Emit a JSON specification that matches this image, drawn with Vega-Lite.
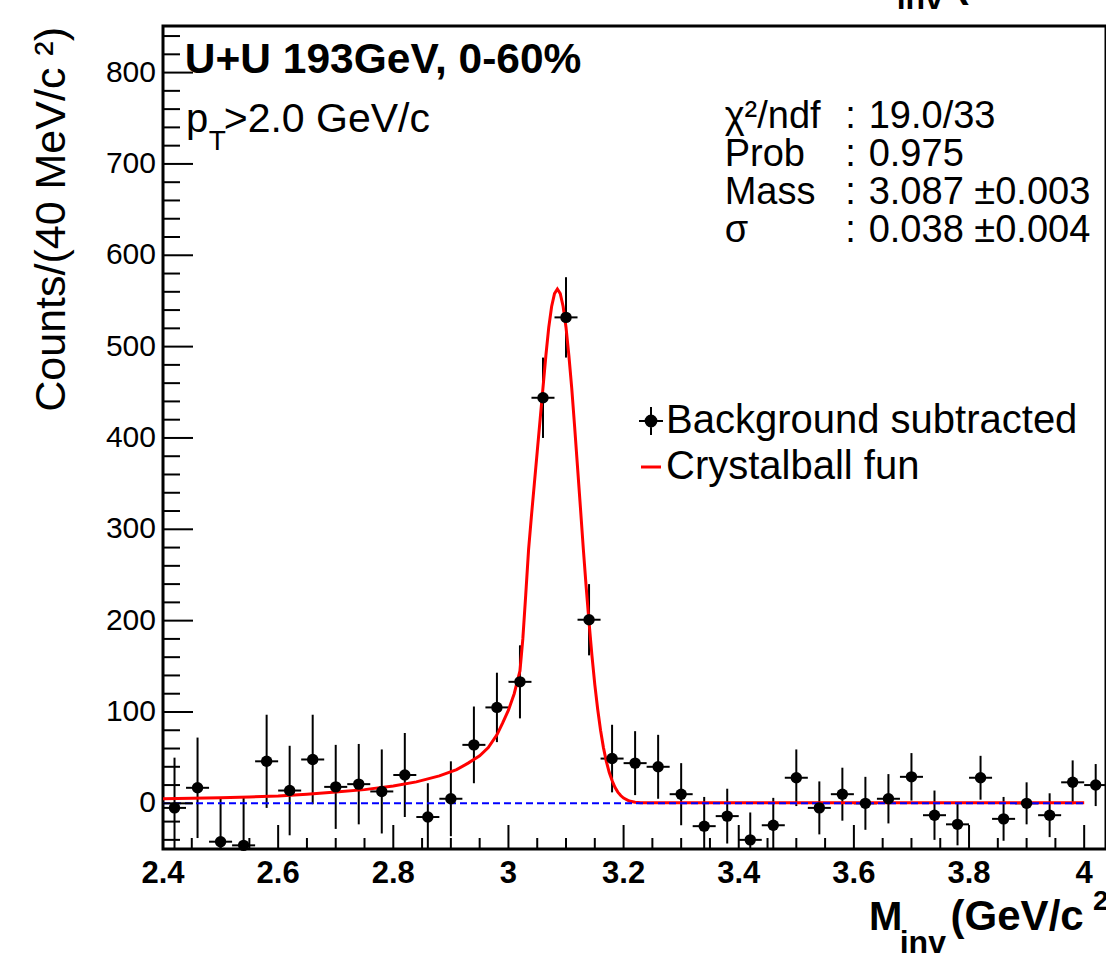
{
  "$schema": "https://vega.github.io/schema/vega-lite/v6.json",
  "width": 943,
  "height": 823,
  "autosize": {"type": "none"},
  "padding": {"left": 163, "top": 26, "right": 0, "bottom": 107},
  "background": "white",
  "config": {
    "view": {"stroke": "black", "strokeWidth": 3},
    "font": "Liberation Sans"
  },
  "datasets": {
    "hist": [
      {"m": 2.42, "n": -5, "e": 55, "w": 0.02},
      {"m": 2.46, "n": 17, "e": 55, "w": 0.02},
      {"m": 2.50, "n": -42, "e": 48, "w": 0.02},
      {"m": 2.54, "n": -46, "e": 52, "w": 0.02},
      {"m": 2.58, "n": 46, "e": 51, "w": 0.02},
      {"m": 2.62, "n": 14, "e": 49, "w": 0.02},
      {"m": 2.66, "n": 48, "e": 49, "w": 0.02},
      {"m": 2.70, "n": 18, "e": 46, "w": 0.02},
      {"m": 2.74, "n": 21, "e": 44, "w": 0.02},
      {"m": 2.78, "n": 13, "e": 46, "w": 0.02},
      {"m": 2.82, "n": 31, "e": 46, "w": 0.02},
      {"m": 2.86, "n": -15, "e": 37, "w": 0.02},
      {"m": 2.90, "n": 5, "e": 41, "w": 0.02},
      {"m": 2.94, "n": 64, "e": 42, "w": 0.02},
      {"m": 2.98, "n": 105, "e": 38, "w": 0.02},
      {"m": 3.02, "n": 133, "e": 40, "w": 0.02},
      {"m": 3.06, "n": 444, "e": 44, "w": 0.02},
      {"m": 3.10, "n": 532, "e": 44, "w": 0.02},
      {"m": 3.14, "n": 201, "e": 39, "w": 0.02},
      {"m": 3.18, "n": 49, "e": 37, "w": 0.02},
      {"m": 3.22, "n": 44, "e": 35, "w": 0.02},
      {"m": 3.26, "n": 40, "e": 35, "w": 0.02},
      {"m": 3.30, "n": 10, "e": 34, "w": 0.02},
      {"m": 3.34, "n": -25, "e": 32, "w": 0.02},
      {"m": 3.38, "n": -14, "e": 30, "w": 0.02},
      {"m": 3.42, "n": -40, "e": 30, "w": 0.02},
      {"m": 3.46, "n": -24, "e": 30, "w": 0.02},
      {"m": 3.50, "n": 28, "e": 31, "w": 0.02},
      {"m": 3.54, "n": -5, "e": 29, "w": 0.02},
      {"m": 3.58, "n": 10, "e": 29, "w": 0.02},
      {"m": 3.62, "n": 0, "e": 29, "w": 0.02},
      {"m": 3.66, "n": 5, "e": 27, "w": 0.02},
      {"m": 3.70, "n": 29, "e": 26, "w": 0.02},
      {"m": 3.74, "n": -13, "e": 27, "w": 0.02},
      {"m": 3.78, "n": -23, "e": 23, "w": 0.02},
      {"m": 3.82, "n": 28, "e": 24, "w": 0.02},
      {"m": 3.86, "n": -17, "e": 24, "w": 0.02},
      {"m": 3.90, "n": 0, "e": 23, "w": 0.02},
      {"m": 3.94, "n": -13, "e": 24, "w": 0.02},
      {"m": 3.98, "n": 23, "e": 24, "w": 0.02},
      {"m": 4.02, "n": 20, "e": 23, "w": 0.02}
    ],
    "fit": [
      {"m": 2.40, "f": 5}, {"m": 2.45, "f": 5.5}, {"m": 2.50, "f": 6}, {"m": 2.55, "f": 7},
      {"m": 2.60, "f": 8}, {"m": 2.65, "f": 10}, {"m": 2.70, "f": 12.5}, {"m": 2.75, "f": 15},
      {"m": 2.80, "f": 19}, {"m": 2.84, "f": 23.5}, {"m": 2.88, "f": 30}, {"m": 2.91, "f": 37},
      {"m": 2.93, "f": 44}, {"m": 2.95, "f": 52}, {"m": 2.965, "f": 61}, {"m": 2.98, "f": 75},
      {"m": 2.99, "f": 88}, {"m": 3.00, "f": 102}, {"m": 3.01, "f": 120}, {"m": 3.02, "f": 145},
      {"m": 3.025, "f": 180}, {"m": 3.03, "f": 228}, {"m": 3.035, "f": 278}, {"m": 3.04, "f": 315},
      {"m": 3.045, "f": 350}, {"m": 3.05, "f": 385}, {"m": 3.055, "f": 420}, {"m": 3.06, "f": 455},
      {"m": 3.065, "f": 490}, {"m": 3.07, "f": 521}, {"m": 3.075, "f": 544}, {"m": 3.08, "f": 558},
      {"m": 3.085, "f": 563}, {"m": 3.09, "f": 558}, {"m": 3.095, "f": 544}, {"m": 3.10, "f": 521},
      {"m": 3.105, "f": 490}, {"m": 3.11, "f": 454}, {"m": 3.115, "f": 412}, {"m": 3.12, "f": 368},
      {"m": 3.125, "f": 324}, {"m": 3.13, "f": 279}, {"m": 3.135, "f": 237}, {"m": 3.14, "f": 198},
      {"m": 3.145, "f": 162}, {"m": 3.15, "f": 130}, {"m": 3.155, "f": 103}, {"m": 3.16, "f": 80},
      {"m": 3.165, "f": 61}, {"m": 3.17, "f": 46}, {"m": 3.175, "f": 34}, {"m": 3.18, "f": 25},
      {"m": 3.185, "f": 17.6}, {"m": 3.19, "f": 12.3}, {"m": 3.195, "f": 8.5}, {"m": 3.20, "f": 5.8},
      {"m": 3.21, "f": 2.5}, {"m": 3.22, "f": 1.2}, {"m": 3.23, "f": 0.7}, {"m": 3.25, "f": 0.5},
      {"m": 4.00, "f": 0.5}
    ],
    "xmajor": [{"t": 2.4}, {"t": 2.6}, {"t": 2.8}, {"t": 3.0}, {"t": 3.2}, {"t": 3.4}, {"t": 3.6}, {"t": 3.8}, {"t": 4.0}],
    "xminor": [{"t": 2.45}, {"t": 2.5}, {"t": 2.55}, {"t": 2.65}, {"t": 2.7}, {"t": 2.75}, {"t": 2.85}, {"t": 2.9}, {"t": 2.95}, {"t": 3.05}, {"t": 3.1}, {"t": 3.15}, {"t": 3.25}, {"t": 3.3}, {"t": 3.35}, {"t": 3.45}, {"t": 3.5}, {"t": 3.55}, {"t": 3.65}, {"t": 3.7}, {"t": 3.75}, {"t": 3.85}, {"t": 3.9}, {"t": 3.95}],
    "ymajor": [{"t": 0}, {"t": 100}, {"t": 200}, {"t": 300}, {"t": 400}, {"t": 500}, {"t": 600}, {"t": 700}, {"t": 800}],
    "yminor": [{"t": -40}, {"t": -20}, {"t": 20}, {"t": 40}, {"t": 60}, {"t": 80}, {"t": 120}, {"t": 140}, {"t": 160}, {"t": 180}, {"t": 220}, {"t": 240}, {"t": 260}, {"t": 280}, {"t": 320}, {"t": 340}, {"t": 360}, {"t": 380}, {"t": 420}, {"t": 440}, {"t": 460}, {"t": 480}, {"t": 520}, {"t": 540}, {"t": 560}, {"t": 580}, {"t": 620}, {"t": 640}, {"t": 660}, {"t": 680}, {"t": 720}, {"t": 740}, {"t": 760}, {"t": 780}, {"t": 820}, {"t": 840}]
  },
  "layer": [
    {
      "data": {"name": "hist"},
      "mark": {"type": "errorbar", "clip": true, "thickness": 2, "color": "black"},
      "encoding": {
        "x": {"field": "m", "type": "quantitative", "scale": {"domain": [2.4, 4.0379], "nice": false, "zero": false}, "axis": null},
        "y": {"field": "n", "type": "quantitative", "scale": {"domain": [-50, 851], "nice": false, "zero": false}, "axis": null},
        "yError": {"field": "e"}
      }
    },
    {
      "data": {"name": "hist"},
      "mark": {"type": "errorbar", "clip": true, "thickness": 2, "color": "black"},
      "encoding": {
        "x": {"field": "m", "type": "quantitative", "scale": {"domain": [2.4, 4.0379], "nice": false, "zero": false}, "axis": null},
        "xError": {"field": "w"},
        "y": {"field": "n", "type": "quantitative", "scale": {"domain": [-50, 851], "nice": false, "zero": false}, "axis": null}
      }
    },
    {
      "data": {"name": "fit"},
      "mark": {"type": "line", "strokeWidth": 3, "clip": true},
      "encoding": {
        "x": {"field": "m", "type": "quantitative", "scale": {"domain": [2.4, 4.0379], "nice": false, "zero": false}, "axis": null},
        "y": {"field": "f", "type": "quantitative", "scale": {"domain": [-50, 851], "nice": false, "zero": false}, "axis": null},
        "color": {"datum": "Crystalball fun", "scale": {"domain": ["Background subtracted", "Crystalball fun"], "range": ["black", "#ff0000"]},
          "legend": {
            "title": null, "orient": "none", "legendX": 468, "legendY": 375, "padding": 0,
            "labelFontSize": 40, "labelFont": "Liberation Sans", "labelColor": "black", "labelOffset": -5, "labelLimit": 800, "rowPadding": 6,
            "symbolSize": 576, "symbolStrokeWidth": 2,
            "encode": {"symbols": {"update": {
              "shape": {"signal": "datum.value === 'Crystalball fun' ? 'stroke' : 'M-1,0L1,0M0,-1.17L0,1.17M0.45,0A0.45,0.45,0,1,1,-0.45,0A0.45,0.45,0,1,1,0.45,0Z'"},
              "fill": {"signal": "datum.value === 'Crystalball fun' ? 'transparent' : 'black'"},
              "stroke": {"signal": "datum.value === 'Crystalball fun' ? '#ff0000' : 'black'"},
              "strokeWidth": {"signal": "datum.value === 'Crystalball fun' ? 3 : 2"},
              "size": {"signal": "datum.value === 'Crystalball fun' ? 400 : 576"},
              "opacity": {"value": 1}
            }}}
          }}
      }
    },
    {
      "data": {"values": [{}]},
      "mark": {"type": "rule", "color": "#0000ff", "strokeWidth": 2, "strokeDash": [7, 4]},
      "encoding": {
        "x": {"datum": 2.4, "type": "quantitative", "scale": {"domain": [2.4, 4.0379], "nice": false, "zero": false}, "axis": null},
        "x2": {"datum": 4.0},
        "y": {"datum": 0, "type": "quantitative", "scale": {"domain": [-50, 851], "nice": false, "zero": false}, "axis": null}
      }
    },
    {
      "data": {"name": "hist"},
      "mark": {"type": "point", "filled": true, "size": 130, "opacity": 1},
      "encoding": {
        "x": {"field": "m", "type": "quantitative", "scale": {"domain": [2.4, 4.0379], "nice": false, "zero": false}, "axis": null},
        "y": {"field": "n", "type": "quantitative", "scale": {"domain": [-50, 851], "nice": false, "zero": false}, "axis": null},
        "color": {"datum": "Background subtracted"}
      }
    },
    {
      "data": {"name": "ymajor"},
      "mark": {"type": "rule", "color": "black", "strokeWidth": 2},
      "encoding": {
        "x": {"datum": 2.4, "type": "quantitative", "scale": {"domain": [2.4, 4.0379], "nice": false, "zero": false}, "axis": null},
        "x2": {"datum": 2.4521},
        "y": {"field": "t", "type": "quantitative", "scale": {"domain": [-50, 851], "nice": false, "zero": false}, "axis": null}
      }
    },
    {
      "data": {"name": "yminor"},
      "mark": {"type": "rule", "color": "black", "strokeWidth": 2},
      "encoding": {
        "x": {"datum": 2.4, "type": "quantitative", "scale": {"domain": [2.4, 4.0379], "nice": false, "zero": false}, "axis": null},
        "x2": {"datum": 2.4295},
        "y": {"field": "t", "type": "quantitative", "scale": {"domain": [-50, 851], "nice": false, "zero": false}, "axis": null}
      }
    },
    {
      "data": {"name": "xmajor"},
      "mark": {"type": "tick", "orient": "vertical", "size": 24, "thickness": 2, "color": "black", "opacity": 1},
      "encoding": {
        "x": {"field": "t", "type": "quantitative", "scale": {"domain": [2.4, 4.0379], "nice": false, "zero": false}, "axis": null},
        "y": {"datum": -36.86, "type": "quantitative", "scale": {"domain": [-50, 851], "nice": false, "zero": false}, "axis": null}
      }
    },
    {
      "data": {"name": "xminor"},
      "mark": {"type": "tick", "orient": "vertical", "size": 11, "thickness": 2, "color": "black", "opacity": 1},
      "encoding": {
        "x": {"field": "t", "type": "quantitative", "scale": {"domain": [2.4, 4.0379], "nice": false, "zero": false}, "axis": null},
        "y": {"datum": -43.98, "type": "quantitative", "scale": {"domain": [-50, 851], "nice": false, "zero": false}, "axis": null}
      }
    },
    {
      "data": {"name": "xmajor"},
      "mark": {"type": "text", "font": "Liberation Sans", "fontSize": 31, "fontWeight": "bold", "align": "center", "baseline": "top", "dy": 10, "color": "black"},
      "encoding": {
        "x": {"field": "t", "type": "quantitative", "scale": {"domain": [2.4, 4.0379], "nice": false, "zero": false}, "axis": null},
        "y": {"datum": -50, "type": "quantitative", "scale": {"domain": [-50, 851], "nice": false, "zero": false}, "axis": null},
        "text": {"field": "t", "type": "quantitative", "format": "~g"}
      }
    },
    {
      "data": {"name": "ymajor"},
      "mark": {"type": "text", "font": "Liberation Sans", "fontSize": 30, "align": "right", "baseline": "middle", "dx": -7, "color": "black"},
      "encoding": {
        "x": {"datum": 2.4, "type": "quantitative", "scale": {"domain": [2.4, 4.0379], "nice": false, "zero": false}, "axis": null},
        "y": {"field": "t", "type": "quantitative", "scale": {"domain": [-50, 851], "nice": false, "zero": false}, "axis": null},
        "text": {"field": "t", "type": "quantitative", "format": "~g"}
      }
    },
    {
      "data": {"values": [{}]},
      "mark": {"type": "text", "text": "Counts/(40 MeV/c ²)", "angle": 270, "font": "Liberation Sans", "fontSize": 43, "align": "right", "baseline": "alphabetic", "color": "black"},
      "encoding": {
        "x": {"datum": 2.2298, "type": "quantitative", "scale": {"domain": [2.4, 4.0379], "nice": false, "zero": false}, "axis": null},
        "y": {"datum": 849.9, "type": "quantitative", "scale": {"domain": [-50, 851], "nice": false, "zero": false}, "axis": null}
      }
    },
    {
      "data": {"values": [{}]},
      "mark": {"type": "text", "text": "U+U 193GeV, 0-60%", "font": "Liberation Sans", "fontSize": 42.5, "fontWeight": "bold", "align": "left", "baseline": "alphabetic", "color": "black"},
      "encoding": {
        "x": {"datum": 2.4379, "type": "quantitative", "scale": {"domain": [2.4, 4.0379], "nice": false, "zero": false}, "axis": null},
        "y": {"datum": 799.2, "type": "quantitative", "scale": {"domain": [-50, 851], "nice": false, "zero": false}, "axis": null}
      }
    },
    {
      "data": {"values": [{}]},
      "mark": {"type": "text", "text": "p", "font": "Liberation Sans", "fontSize": 40, "align": "left", "baseline": "alphabetic", "color": "black"},
      "encoding": {
        "x": {"datum": 2.4399, "type": "quantitative", "scale": {"domain": [2.4, 4.0379], "nice": false, "zero": false}, "axis": null},
        "y": {"datum": 735.3, "type": "quantitative", "scale": {"domain": [-50, 851], "nice": false, "zero": false}, "axis": null}
      }
    },
    {
      "data": {"values": [{}]},
      "mark": {"type": "text", "text": "T", "font": "Liberation Sans", "fontSize": 28, "align": "left", "baseline": "alphabetic", "color": "black"},
      "encoding": {
        "x": {"datum": 2.4795, "type": "quantitative", "scale": {"domain": [2.4, 4.0379], "nice": false, "zero": false}, "axis": null},
        "y": {"datum": 715.2, "type": "quantitative", "scale": {"domain": [-50, 851], "nice": false, "zero": false}, "axis": null}
      }
    },
    {
      "data": {"values": [{}]},
      "mark": {"type": "text", "text": ">2.0 GeV/c", "font": "Liberation Sans", "fontSize": 41, "align": "left", "baseline": "alphabetic", "color": "black"},
      "encoding": {
        "x": {"datum": 2.5054, "type": "quantitative", "scale": {"domain": [2.4, 4.0379], "nice": false, "zero": false}, "axis": null},
        "y": {"datum": 735.3, "type": "quantitative", "scale": {"domain": [-50, 851], "nice": false, "zero": false}, "axis": null}
      }
    },
    {
      "data": {"values": [{}]},
      "mark": {"type": "text", "text": ["χ²/ndf", "Prob", "Mass", "σ"], "lineHeight": 38, "font": "Liberation Sans", "fontSize": 38, "align": "left", "baseline": "alphabetic", "color": "black"},
      "encoding": {
        "x": {"datum": 3.3755, "type": "quantitative", "scale": {"domain": [2.4, 4.0379], "nice": false, "zero": false}, "axis": null},
        "y": {"datum": 739, "type": "quantitative", "scale": {"domain": [-50, 851], "nice": false, "zero": false}, "axis": null}
      }
    },
    {
      "data": {"values": [{}]},
      "mark": {"type": "text", "text": [":", ":", ":", ":"], "lineHeight": 38, "font": "Liberation Sans", "fontSize": 38, "align": "left", "baseline": "alphabetic", "color": "black"},
      "encoding": {
        "x": {"datum": 3.5849, "type": "quantitative", "scale": {"domain": [2.4, 4.0379], "nice": false, "zero": false}, "axis": null},
        "y": {"datum": 739, "type": "quantitative", "scale": {"domain": [-50, 851], "nice": false, "zero": false}, "axis": null}
      }
    },
    {
      "data": {"values": [{}]},
      "mark": {"type": "text", "text": ["19.0/33", "0.975", "3.087 ±0.003", "0.038 ±0.004"], "lineHeight": 38, "font": "Liberation Sans", "fontSize": 38, "align": "left", "baseline": "alphabetic", "color": "black"},
      "encoding": {
        "x": {"datum": 3.6257, "type": "quantitative", "scale": {"domain": [2.4, 4.0379], "nice": false, "zero": false}, "axis": null},
        "y": {"datum": 739, "type": "quantitative", "scale": {"domain": [-50, 851], "nice": false, "zero": false}, "axis": null}
      }
    },
    {
      "data": {"values": [{}]},
      "mark": {"type": "text", "text": "M", "font": "Liberation Sans", "fontSize": 40, "fontWeight": "bold", "align": "left", "baseline": "alphabetic", "color": "black"},
      "encoding": {
        "x": {"datum": 3.6262, "type": "quantitative", "scale": {"domain": [2.4, 4.0379], "nice": false, "zero": false}, "axis": null},
        "y": {"datum": -138.7, "type": "quantitative", "scale": {"domain": [-50, 851], "nice": false, "zero": false}, "axis": null}
      }
    },
    {
      "data": {"values": [{}]},
      "mark": {"type": "text", "text": "inv", "font": "Liberation Sans", "fontSize": 32, "fontWeight": "bold", "align": "left", "baseline": "alphabetic", "color": "black"},
      "encoding": {
        "x": {"datum": 3.6796, "type": "quantitative", "scale": {"domain": [2.4, 4.0379], "nice": false, "zero": false}, "axis": null},
        "y": {"datum": -164, "type": "quantitative", "scale": {"domain": [-50, 851], "nice": false, "zero": false}, "axis": null}
      }
    },
    {
      "data": {"values": [{}]},
      "mark": {"type": "text", "text": "(GeV/c", "font": "Liberation Sans", "fontSize": 42, "fontWeight": "bold", "align": "left", "baseline": "alphabetic", "color": "black"},
      "encoding": {
        "x": {"datum": 3.768, "type": "quantitative", "scale": {"domain": [2.4, 4.0379], "nice": false, "zero": false}, "axis": null},
        "y": {"datum": -138.7, "type": "quantitative", "scale": {"domain": [-50, 851], "nice": false, "zero": false}, "axis": null}
      }
    },
    {
      "data": {"values": [{}]},
      "mark": {"type": "text", "text": "2)", "font": "Liberation Sans", "fontSize": 28, "fontWeight": "bold", "align": "left", "baseline": "alphabetic", "color": "black"},
      "encoding": {
        "x": {"datum": 4.0152, "type": "quantitative", "scale": {"domain": [2.4, 4.0379], "nice": false, "zero": false}, "axis": null},
        "y": {"datum": -116.9, "type": "quantitative", "scale": {"domain": [-50, 851], "nice": false, "zero": false}, "axis": null}
      }
    },
    {
      "data": {"values": [{}]},
      "mark": {"type": "text", "text": "inv", "font": "Liberation Sans", "fontSize": 32, "fontWeight": "bold", "align": "left", "baseline": "alphabetic", "color": "black"},
      "encoding": {
        "x": {"datum": 3.6744, "type": "quantitative", "scale": {"domain": [2.4, 4.0379], "nice": false, "zero": false}, "axis": null},
        "y": {"datum": 869.6, "type": "quantitative", "scale": {"domain": [-50, 851], "nice": false, "zero": false}, "axis": null}
      }
    },
    {
      "data": {"values": [{}]},
      "mark": {"type": "text", "text": "(GeV/c", "font": "Liberation Sans", "fontSize": 42, "fontWeight": "bold", "align": "left", "baseline": "alphabetic", "color": "black"},
      "encoding": {
        "x": {"datum": 3.775, "type": "quantitative", "scale": {"domain": [2.4, 4.0379], "nice": false, "zero": false}, "axis": null},
        "y": {"datum": 884.3, "type": "quantitative", "scale": {"domain": [-50, 851], "nice": false, "zero": false}, "axis": null}
      }
    }
  ]
}
